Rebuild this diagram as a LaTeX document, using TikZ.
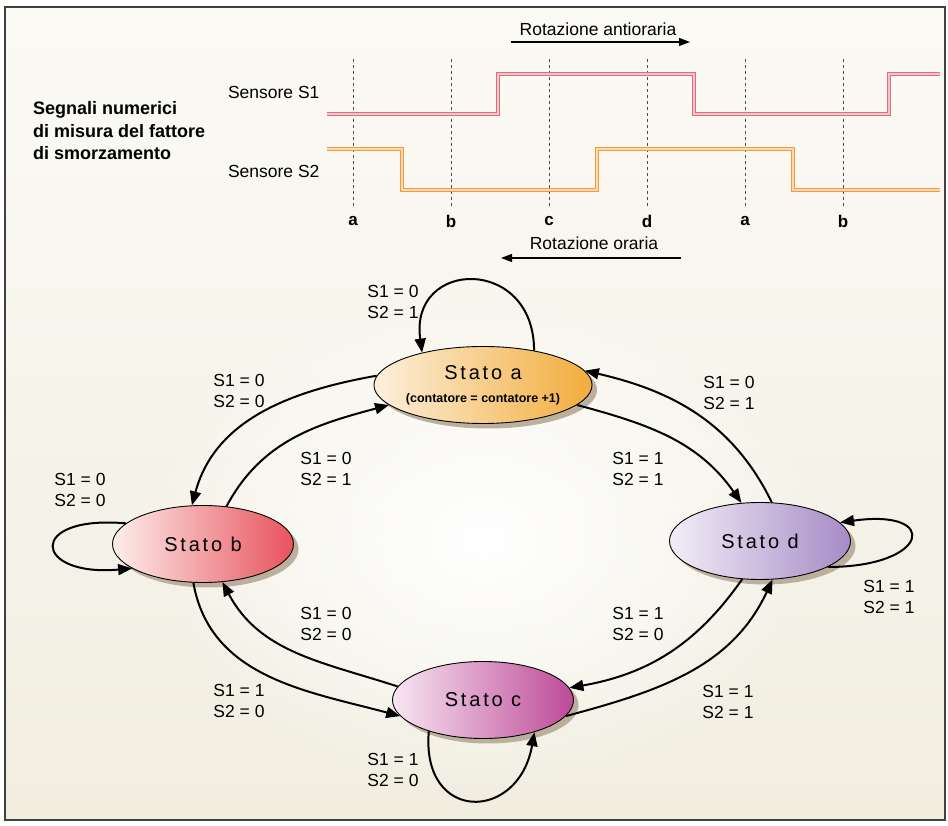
\documentclass[tikz,border=0pt]{standalone}
\usepackage{fontspec}
\setmainfont{Liberation Sans}
\newfontfamily\statofont[LetterSpace=14]{Liberation Sans}
\usetikzlibrary{shapes.geometric,arrows.meta,shadows,fadings}

\definecolor{bgtop}{HTML}{FBFAF5}
\definecolor{bgbot}{HTML}{F1EEE0}
\definecolor{sonedark}{HTML}{D8707E}
\definecolor{sonelight}{HTML}{F7C3CA}
\definecolor{stwodark}{HTML}{F29A48}
\definecolor{stwolight}{HTML}{FCDAB0}
\definecolor{aleft}{HTML}{FCF0DC}
\definecolor{aright}{HTML}{F2AC3C}
\definecolor{bleft}{HTML}{FDEEEB}
\definecolor{bright}{HTML}{E8525D}
\definecolor{dleft}{HTML}{F2EEF7}
\definecolor{dright}{HTML}{A68BC6}
\definecolor{cleft}{HTML}{F8E6F3}
\definecolor{cright}{HTML}{BD4A97}
\definecolor{shadowc}{HTML}{BCAF9E}

\tikzfading[name=glow fade, inner color=transparent!0, outer color=transparent!100]

\tikzset{
  state/.style={ellipse, draw=black, line width=0.9pt, inner sep=0pt,
    minimum width=181pt, minimum height=77pt, align=center,
    font=\statofont\fontsize{20}{23}\selectfont,
    drop shadow={shadow xshift=5pt, shadow yshift=-5pt, fill=shadowc, opacity=1}},
  trans/.style={line width=2pt, -{Triangle[length=14pt,width=11pt]}},
  cond/.style={align=left, font=\fontsize{17.5}{20.5}\selectfont},
  phase/.style={draw=black!70, line width=0.8pt, dash pattern=on 3pt off 3pt},
  sig one/.style={draw=sonedark, double=sonelight, line width=1.2pt, double distance=2pt},
  sig two/.style={draw=stwodark, double=stwolight, line width=1.2pt, double distance=2pt},
  rot/.style={line width=1.2pt, -{Triangle[length=11pt,width=8pt]}},
}

\begin{document}
\begin{tikzpicture}[x=1pt,y=1pt,font=\fontsize{17.5}{21}\selectfont]
  \useasboundingbox (0,0) rectangle (948,825);
  \shade[top color=bgtop, bottom color=bgbot] (5,5) rectangle (945,818);
  \fill[white, path fading=glow fade] (483,285) ellipse (340 and 250);
  \draw[line width=1.2pt, black!75] (5,5) rectangle (945,818);

  % segnali dei sensori
  \node[anchor=west, align=left, inner sep=0pt, font=\bfseries\fontsize{18}{22.5}\selectfont] (titolo) at (33,694)
    {Segnali numerici\\di misura del fattore\\di smorzamento};
  \node[anchor=east] (sone) at (323,733) {Sensore S1};
  \node[anchor=east] (stwo) at (323,654) {Sensore S2};
  \foreach \x/\p [count=\i] in {353/a,451/b,549/c,647/d,745/a,843/b} {
    \draw[phase] (\x,766) -- (\x,617);
    \node[font=\bfseries\fontsize{17}{20}\selectfont] (fase\i) at (\x,604) {\p};
  }
  \draw[sig one] (327,711) -- (498,711) -- (498,751) -- (694,751) -- (694,711) -- (889,711) -- (889,751) -- (940,751);
  \draw[sig two] (327,676) -- (402,676) -- (402,635) -- (597,635) -- (597,676) -- (793,676) -- (793,635) -- (940,635);

  \node (antior) at (598,796) {Rotazione antioraria};
  \coordinate (antiorA) at (511,783);
  \coordinate (antiorB) at (690,783);
  \draw[rot] (antiorA) -- (antiorB);
  \node (orar) at (594,582) {Rotazione oraria};
  \coordinate (orarA) at (681,567);
  \coordinate (orarB) at (501,567);
  \draw[rot] (orarA) -- (orarB);

  % stati
  \node[state, left color=aleft, right color=aright] (sa) at (483,440)
    {Stato a\\{\normalfont\bfseries\fontsize{12.5}{14}\selectfont (contatore = contatore +1)}};
  \node[state, left color=bleft, right color=bright] (sb) at (203,281) {Stato b};
  \node[state, left color=dleft, right color=dright] (sd) at (760,284) {Stato d};
  \node[state, left color=cleft, right color=cright] (sc) at (483,125) {Stato c};

  % transizioni
  \draw[trans] (sa.175) to[out=190,in=75] (sb.106);
  \draw[trans] (sb.58) to[out=62,in=195] (sa.192);
  \draw[trans] (sa.-12) to[out=-15,in=125] (sd.116);
  \draw[trans] (sd.73) to[out=116,in=-13] (sa.8);
  \draw[trans] (sd.245) to[out=235,in=10] (sc.8);
  \draw[trans] (sc.-11) to[out=15,in=245] (sd.-72);
  \draw[trans] (sc.171) to[out=162,in=-62] (sb.-63);
  \draw[trans] (sb.256) to[out=280,in=165] (sc.191);

  \draw[trans] (sa.34) .. controls +(90:95) and +(98:95) .. (sa.152);
  \draw[trans] (sb.165) .. controls +(175:100) and +(185:100) .. (sb.199);
  \draw[trans] (sd.-21) .. controls +(0:102) and +(8:102) .. (sd.13);
  \draw[trans] (sc.210) .. controls +(265:92) and +(260:92) .. (sc.-32);

  \node[cond] (laa) at (393,523) {S1 = 0\\S2 = 1};
  \node[cond] (lab) at (239,434) {S1 = 0\\S2 = 0};
  \node[cond] (lba) at (326,356) {S1 = 0\\S2 = 1};
  \node[cond] (lad) at (638,356) {S1 = 1\\S2 = 1};
  \node[cond] (lda) at (729,432) {S1 = 0\\S2 = 1};
  \node[cond] (lbb) at (80,335) {S1 = 0\\S2 = 0};
  \node[cond] (ldd) at (889,228) {S1 = 1\\S2 = 1};
  \node[cond] (lcb) at (326,201) {S1 = 0\\S2 = 0};
  \node[cond] (ldc) at (638,201) {S1 = 1\\S2 = 0};
  \node[cond] (lbc) at (239,124) {S1 = 1\\S2 = 0};
  \node[cond] (lcd) at (728,123) {S1 = 1\\S2 = 1};
  \node[cond] (lcc) at (393,55) {S1 = 1\\S2 = 0};
\end{tikzpicture}
\end{document}
